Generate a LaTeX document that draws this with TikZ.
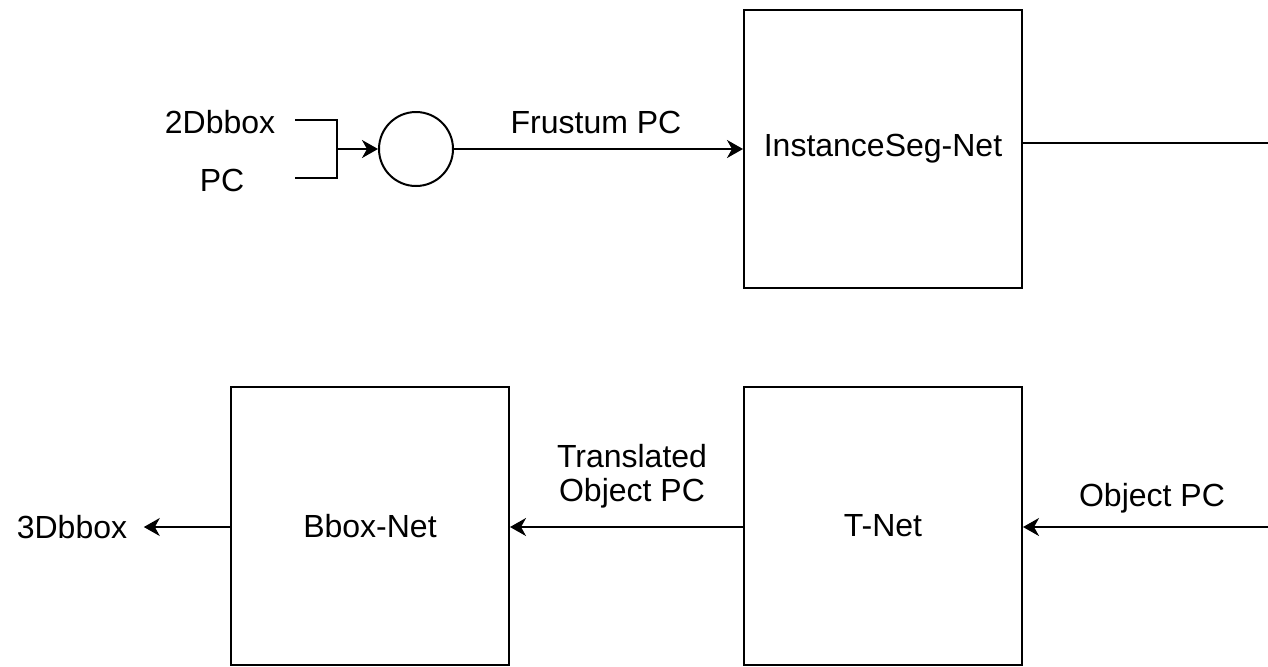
\documentclass[tikz,border=0pt]{standalone}
\usepackage{fontspec}
\setmainfont{Liberation Sans}
\usetikzlibrary{arrows.meta}
\begin{document}
\begin{tikzpicture}[x=0.5pt,y=-0.5pt,
  netbox/.style={draw,line width=1pt,minimum width=139pt,minimum height=139pt,inner sep=0pt,font=\fontsize{16}{17}\selectfont},
  lbl/.style={font=\fontsize{16}{17}\selectfont,align=center},
  plain/.style={line width=1pt},
  flow/.style={line width=1pt,-{Stealth[length=8pt,width=9pt,inset=2.5pt]}}]
  \useasboundingbox (0,0) rectangle (1268,666);
  \node[lbl] (bbox2d) at (220,122) {2Dbbox};
  \node[lbl] (pc) at (222,180) {PC};
  \coordinate (inA) at (295,120);
  \coordinate (inB) at (295,178);
  \coordinate (join) at (337,149);
  \node[draw,circle,line width=1pt,minimum size=37pt,inner sep=0pt] (merge) at (416,149) {};
  \node[netbox] (isnet) at (883,149) {InstanceSeg-Net};
  \node[netbox] (tnet) at (883,526) {T-Net};
  \node[netbox] (bboxnet) at (370,526) {Bbox-Net};
  \node[lbl,outer sep=5pt] (bbox3d) at (72,527) {3Dbbox};
  \node[lbl] (frustum) at (596,122) {Frustum PC};
  \node[lbl] (objpc) at (1152,498) {Object PC};
  \node[lbl] (transpc) at (632,476) {Translated\\Object PC};
  \coordinate (outR) at (1268,143);
  \coordinate (inR) at (1268,527);
  \draw[plain] (inA) -| (join);
  \draw[plain] (inB) -| (join);
  \draw[flow] (join) -- (merge);
  \draw[flow] (merge) -- (isnet);
  \draw[plain] (isnet.east |- outR) -- (outR);
  \draw[flow] (inR) -- (tnet.east |- inR);
  \draw[flow] (tnet.west |- inR) -- (bboxnet.east |- inR);
  \draw[flow] (bboxnet.west |- inR) -- (bbox3d.east |- inR);
\end{tikzpicture}
\end{document}
